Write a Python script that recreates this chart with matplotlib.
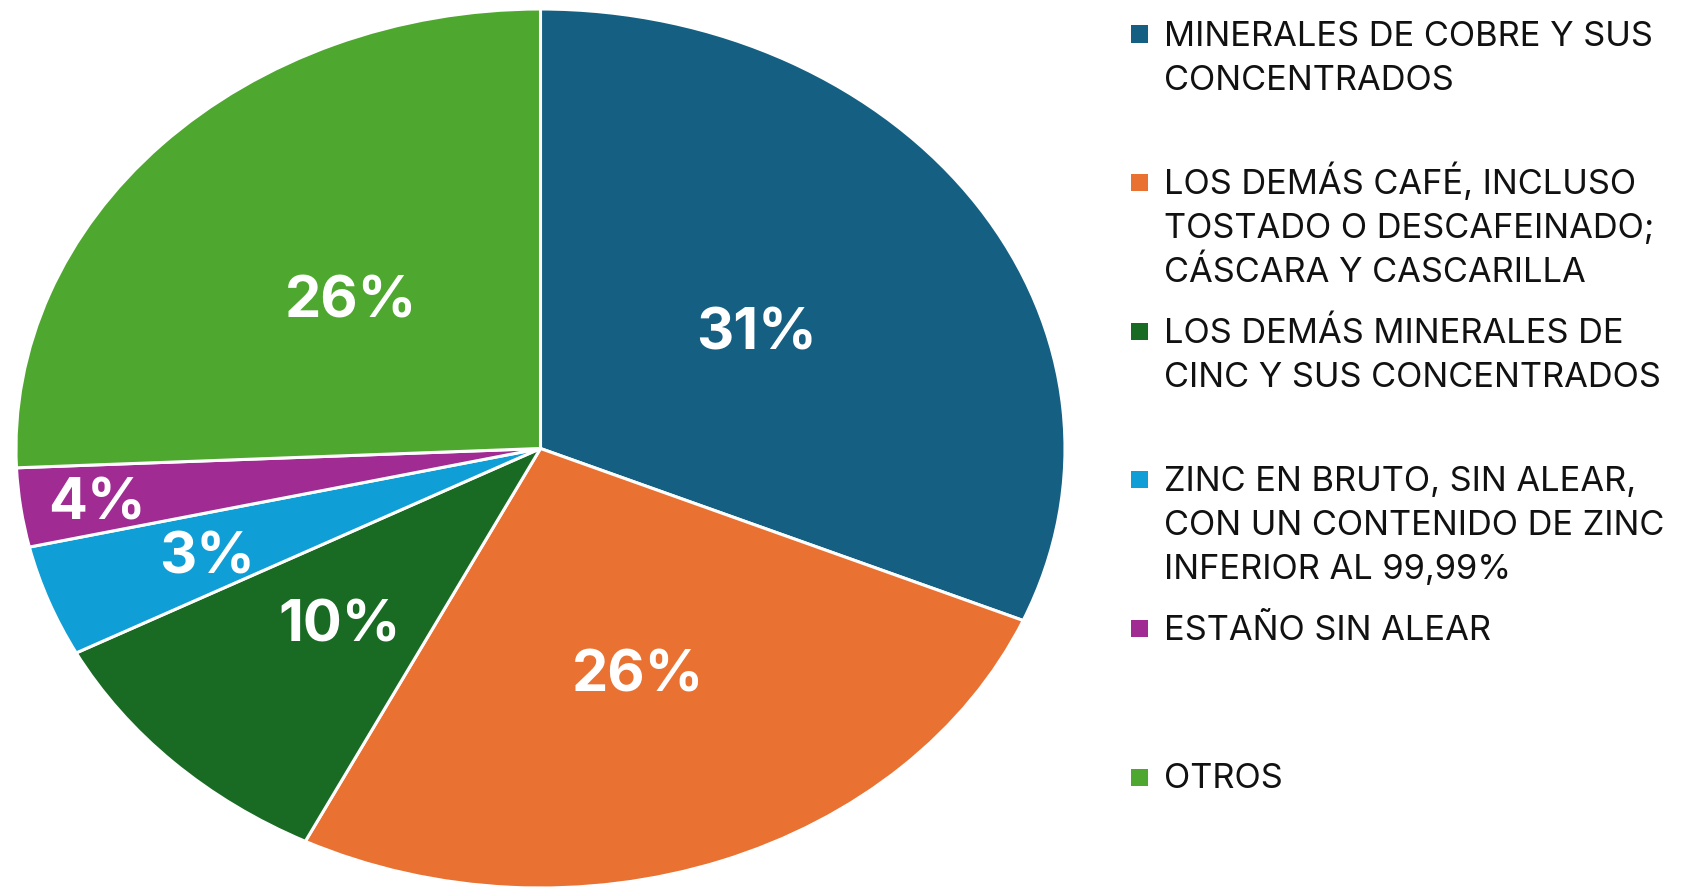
import matplotlib
matplotlib.use("Agg")
import matplotlib.pyplot as plt
import numpy as np
from matplotlib.patches import Rectangle

# ---- data ----
categories = [
    "MINERALES DE COBRE Y SUS\nCONCENTRADOS",
    "LOS DEMÁS CAFÉ, INCLUSO\nTOSTADO O DESCAFEINADO;\nCÁSCARA Y CASCARILLA",
    "LOS DEMÁS MINERALES DE\nCINC Y SUS CONCENTRADOS",
    "ZINC EN BRUTO, SIN ALEAR,\nCON UN CONTENIDO DE ZINC\nINFERIOR AL 99,99%",
    "ESTAÑO SIN ALEAR",
    "OTROS",
]
shares = [31.4, 26.0, 9.9, 4.1, 2.9, 25.7]
pct_labels = ["31%", "26%", "10%", "3%", "4%", "26%"]
colors = ["#156082", "#E97132", "#196B24", "#0F9ED5", "#A02B93", "#4EA72E"]
label_dist = [0.494, 0.537, 0.548, 0.678, 0.853, 0.499]

W, H = 1693, 891
fig = plt.figure(figsize=(W / 100, H / 100), dpi=100)
fig.patch.set_facecolor("white")

# pie axes (elliptical pie, as in the reference)
cx, cy, rx, ry = 540.5, 448.5, 524.5, 439.5
ax = fig.add_axes([(cx - rx) / W, (H - cy - ry) / H, 2 * rx / W, 2 * ry / H])
wedges, _ = ax.pie(shares, colors=colors, startangle=90, counterclock=False,
                   radius=1.0,
                   wedgeprops=dict(edgecolor="white", linewidth=2.2))
ax.set_aspect("auto")
ax.set_xlim(-1, 1)
ax.set_ylim(-1, 1)
ax.axis("off")

for w, lab, d in zip(wedges, pct_labels, label_dist):
    mid = np.deg2rad((w.theta1 + w.theta2) / 2)
    ax.text(d * np.cos(mid), d * np.sin(mid), lab, ha="center", va="center_baseline",
            color="white", fontsize=41.5, fontweight="bold", family="Inter")

# manual legend
lx_box, lx_text = 1131, 1164
y0, dy = 34.0, 148.6      # cap-centre of first line of each entry (px from top)
line_h = 44.0
cap = 23.0
box = 17
for i, (cat, col) in enumerate(zip(categories, colors)):
    yc = y0 + i * dy
    fig.patches.append(Rectangle((lx_box / W, (H - yc - box / 2) / H), box / W, box / H,
                                 transform=fig.transFigure, facecolor=col,
                                 edgecolor="none"))
    for k, line in enumerate(cat.split("\n")):
        base = yc + cap / 2 + k * line_h
        fig.text(lx_text / W, (H - base) / H, line, ha="left", va="baseline",
                 fontsize=24.8, family="Inter", color="#111111")

fig.savefig("out.png", dpi=100, facecolor="white")
